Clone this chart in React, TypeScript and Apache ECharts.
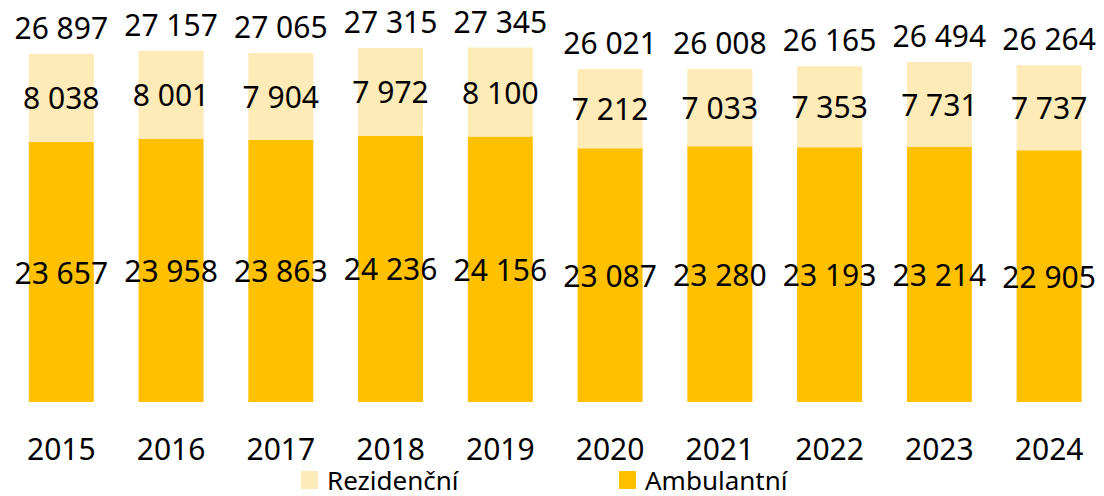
import React, { useEffect, useRef } from "react";
import * as echarts from "echarts";

const years = ["2015", "2016", "2017", "2018", "2019", "2020", "2021", "2022", "2023", "2024"];
const ambulantni = [23657, 23958, 23863, 24236, 24156, 23087, 23280, 23193, 23214, 22905];
const rezidencni = [8038, 8001, 7904, 7972, 8100, 7212, 7033, 7353, 7731, 7737];
const celkem = [26897, 27157, 27065, 27315, 27345, 26021, 26008, 26165, 26494, 26264];

const FONT = "'Segoe UI', 'Noto Sans', sans-serif";
const fmt = (v: number) => String(v).replace(/\B(?=(\d{3})+(?!\d))/g, " ");

export default function App() {
  const ref = useRef<HTMLDivElement>(null);
  useEffect(() => {
    if (!ref.current) return;
    const chart = echarts.init(ref.current, null, { renderer: "svg" });
    const stackTop = ambulantni.map((a, i) => a + rezidencni[i]);
    const legendText = {
      fontSize: 26,
      lineHeight: 26,
      fontFamily: FONT,
      color: "#000",
      padding: [0, 0, 0, 4],
    };
    chart.setOption({
      animation: false,
      grid: { left: 6.4, width: 1102.5, top: 17.4, height: 384.6 },
      legend: [
        {
          left: 301,
          top: 467,
          padding: 0,
          itemWidth: 17,
          itemHeight: 18,
          icon: "rect",
          data: ["Rezidenční"],
          textStyle: legendText,
        },
        {
          left: 619,
          top: 467,
          padding: 0,
          itemWidth: 17,
          itemHeight: 18,
          icon: "rect",
          data: ["Ambulantní"],
          textStyle: legendText,
        },
      ],
      xAxis: {
        type: "category",
        data: years,
        axisLine: { show: false },
        axisTick: { show: false },
        axisLabel: { fontSize: 30, lineHeight: 30, fontFamily: FONT, color: "#000", margin: 31 },
      },
      yAxis: {
        type: "value",
        min: 0,
        max: 35000,
        show: false,
        splitLine: { show: false },
      },
      series: [
        {
          name: "Ambulantní",
          type: "bar",
          stack: "s",
          barWidth: 65,
          data: ambulantni,
          itemStyle: { color: "#FFC000" },
          label: {
            show: true,
            position: "inside",
            formatter: (p: any) => fmt(p.value),
            fontSize: 30,
            fontFamily: FONT,
            color: "#000",
          },
        },
        {
          name: "Rezidenční",
          type: "bar",
          stack: "s",
          barWidth: 65,
          data: rezidencni,
          itemStyle: { color: "#FFEBB7" },
          label: {
            show: true,
            position: "inside",
            formatter: (p: any) => fmt(p.value),
            fontSize: 30,
            fontFamily: FONT,
            color: "#000",
          },
        },
        {
          name: "Celkem",
          type: "scatter",
          data: stackTop,
          symbolSize: 1,
          itemStyle: { color: "rgba(0,0,0,0)", opacity: 1 },
          label: {
            show: true,
            position: "top",
            distance: 11,
            formatter: (p: any) => fmt(celkem[p.dataIndex]),
            fontSize: 30,
            fontFamily: FONT,
            color: "#000",
            opacity: 1,
          },
        },
      ],
    });
    return () => chart.dispose();
  }, []);
  return (
    <div
      ref={ref}
      style={{ position: "fixed", left: 0, top: 0, width: 1104, height: 496, background: "#fff" }}
    />
  );
}
